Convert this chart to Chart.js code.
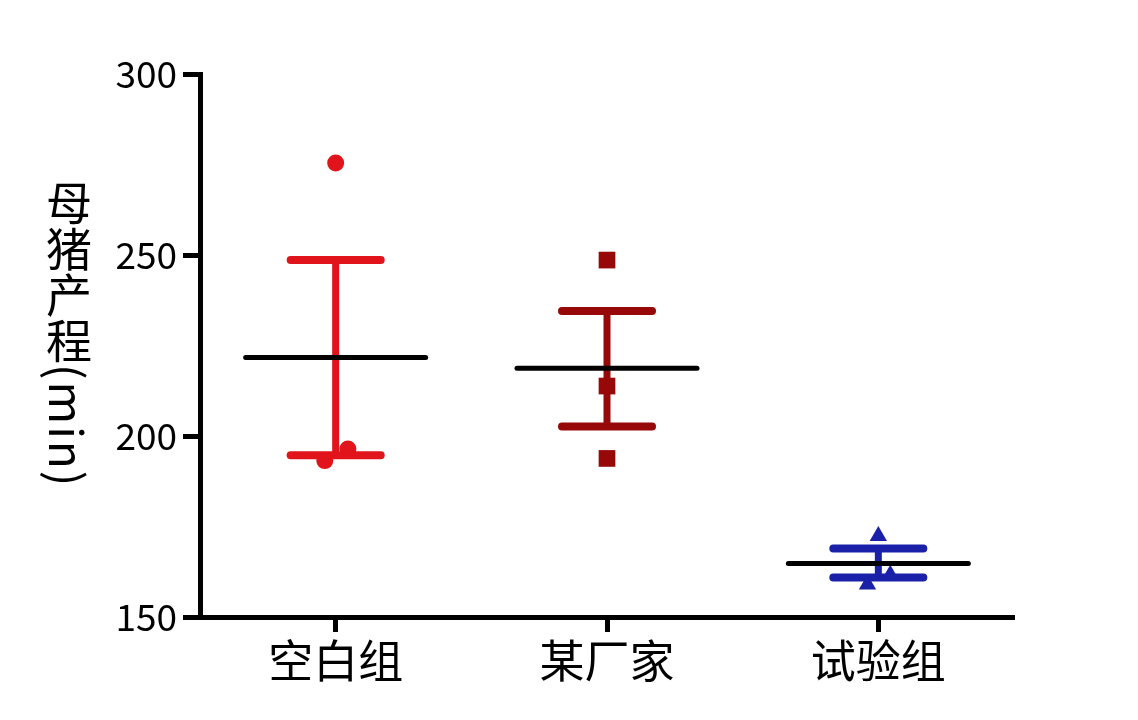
<!DOCTYPE html>
<html>
<head>
<meta charset="utf-8">
<script src="https://cdn.jsdelivr.net/npm/chart.js@4.4.1/dist/chart.umd.min.js"></script>
<style>
  html, body { margin: 0; padding: 0; background: #fff; }
  #wrap { position: relative; width: 1138px; height: 720px; }
  #yTitle {
    position: absolute;
    left: 46px;
    top: 180px;
    writing-mode: vertical-rl;
    font-family: "Noto Sans CJK SC", sans-serif;
    font-size: 46px;
    line-height: 1;
    color: #000;
    white-space: nowrap;
  }
  #yTitle span { letter-spacing: 2px; }
</style>
</head>
<body>
<div id="wrap">
  <canvas id="chart" width="1138" height="720"></canvas>
  <div id="yTitle">母猪产程<span>(min)</span></div>
</div>
<script>
const categories = ['空白组', '某厂家', '试验组'];

// individual animals
const blankValues = [275.4, 193.2, 196.4];
const factoryValues = [248.6, 213.8, 193.8];
const trialValues = [172.4, 161.7, 159.0];

// horizontal scatter of the dots, in category units
const blankJitter = [0, -0.04, 0.045];
const factoryJitter = [0, 0, 0];
const trialJitter = [0, 0.044, -0.04];

// mean line and error bar ends per group
const means = [221.7, 218.7, 164.8];
const errHigh = [248.6, 234.5, 168.9];
const errLow = [194.7, 202.6, 160.9];

const yTicks = [150, 200, 250, 300];

const colors = ['#e2141b', '#970808', '#1a20a8'];
const FONT = '"Noto Sans CJK SC", sans-serif';

function points(values, jitter, idx) {
  return values.map((v, k) => ({ x: idx + jitter[k], y: v }));
}

const errorBars = {
  id: 'errorBars',
  beforeDatasetsDraw(chart) {
    const { ctx, scales: { x, y } } = chart;
    ctx.save();
    categories.forEach((c, i) => {
      const cx = x.getPixelForValue(i);
      const top = y.getPixelForValue(errHigh[i]);
      const bot = y.getPixelForValue(errLow[i]);
      ctx.strokeStyle = colors[i];
      ctx.lineWidth = 7;
      ctx.lineCap = 'butt';
      ctx.beginPath();
      ctx.moveTo(cx, top);
      ctx.lineTo(cx, bot);
      ctx.stroke();
      ctx.lineWidth = 8;
      ctx.lineCap = 'round';
      [top, bot].forEach(py => {
        ctx.beginPath();
        ctx.moveTo(cx - 45, py);
        ctx.lineTo(cx + 45, py);
        ctx.stroke();
      });
    });
    ctx.restore();
  },
  afterDatasetsDraw(chart) {
    const { ctx, scales: { x, y } } = chart;
    ctx.save();
    ctx.strokeStyle = '#000';
    ctx.lineWidth = 5;
    ctx.lineCap = 'round';
    categories.forEach((c, i) => {
      const cx = x.getPixelForValue(i);
      const my = y.getPixelForValue(means[i]);
      ctx.beginPath();
      ctx.moveTo(cx - 90, my);
      ctx.lineTo(cx + 90, my);
      ctx.stroke();
    });
    ctx.restore();
  }
};

new Chart(document.getElementById('chart'), {
  type: 'scatter',
  data: {
    datasets: [
      {
        label: categories[0],
        data: points(blankValues, blankJitter, 0),
        pointStyle: 'circle',
        pointRadius: 8.5,
        backgroundColor: colors[0],
        borderColor: colors[0],
        borderWidth: 0
      },
      {
        label: categories[1],
        data: points(factoryValues, factoryJitter, 1),
        pointStyle: 'rect',
        pointRadius: 11.8,
        backgroundColor: colors[1],
        borderColor: colors[1],
        borderWidth: 0
      },
      {
        label: categories[2],
        data: points(trialValues, trialJitter, 2),
        pointStyle: 'triangle',
        pointRadius: 10,
        backgroundColor: colors[2],
        borderColor: colors[2],
        borderWidth: 0
      }
    ]
  },
  options: {
    responsive: false,
    animation: false,
    layout: { padding: { top: 74, right: 124, left: 0, bottom: 0 } },
    plugins: { legend: { display: false }, tooltip: { enabled: false } },
    scales: {
      x: {
        type: 'linear',
        min: -0.5,
        max: 2.5,
        afterBuildTicks: s => { s.ticks = categories.map((c, i) => ({ value: i })); },
        afterFit: s => { s.height = 103; },
        ticks: {
          callback: v => categories[v],
          color: '#000',
          font: { family: FONT, size: 45 },
          padding: 2,
          maxRotation: 0
        },
        grid: { drawOnChartArea: false, drawTicks: true, tickLength: 15, tickWidth: 5, tickColor: '#000' },
        border: { display: true, color: '#000', width: 5 }
      },
      y: {
        min: 150,
        max: 300,
        afterBuildTicks: s => { s.ticks = yTicks.map(v => ({ value: v })); },
        afterFit: s => { s.width = 200; },
        ticks: {
          color: '#000',
          font: { family: FONT, size: 37 },
          padding: 6
        },
        grid: { drawOnChartArea: false, drawTicks: true, tickLength: 17, tickWidth: 5, tickColor: '#000' },
        border: { display: true, color: '#000', width: 5 }
      }
    }
  },
  plugins: [errorBars]
});
</script>
</body>
</html>
